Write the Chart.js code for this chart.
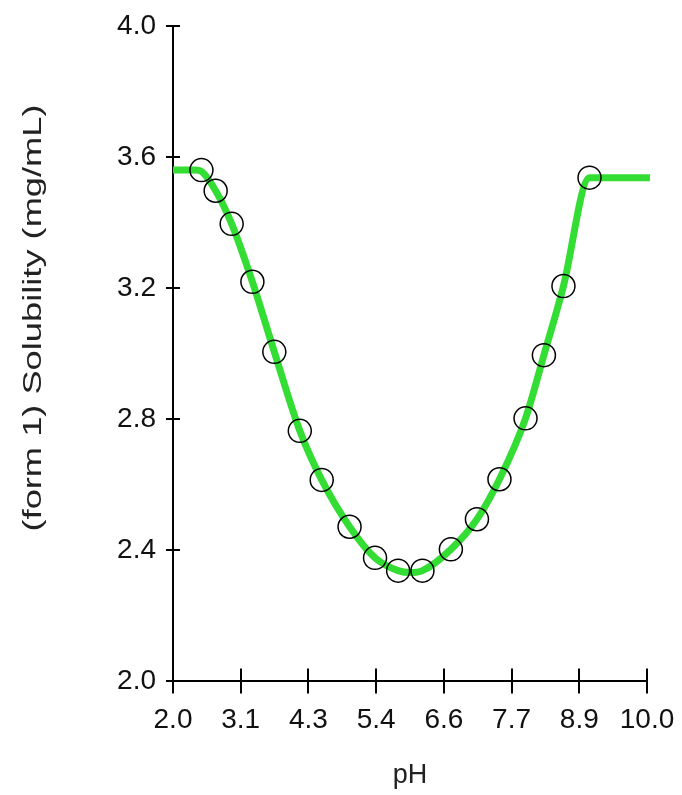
<!DOCTYPE html>
<html>
<head>
<meta charset="utf-8">
<script src="https://cdn.jsdelivr.net/npm/chart.js@4.4.1/dist/chart.umd.min.js"></script>
<style>
html,body{margin:0;padding:0;background:#fff;}
#wrap{width:682px;height:795px;}
</style>
</head>
<body>
<div id="wrap"><canvas id="c" width="682" height="795"></canvas></div>
<script>
// ---- data ----
const xTickLabels = ['2.0','3.1','4.3','5.4','6.6','7.7','8.9','10.0'];
const yTickLabels = ['2.0','2.4','2.8','3.2','3.6','4.0'];
const xTitle = 'pH';
const yTitle = '(form 1) Solubility (mg/mL)';

// measured points (open circles)
const pHMeasured  = [2.48, 2.72, 2.99, 3.34, 3.71, 4.14, 4.51, 4.98, 5.41, 5.80, 6.21, 6.69, 7.13, 7.51, 7.95, 8.26, 8.59, 9.03];
const solMeasured = [3.560, 3.497, 3.396, 3.219, 3.005, 2.764, 2.614, 2.471, 2.376, 2.337, 2.337, 2.402, 2.494, 2.616, 2.802, 2.995, 3.206, 3.537];

// fitted curve (green line)
const pHCurve  = [2.00, 2.38, 2.48, 2.72, 2.99, 3.34, 3.71, 4.14, 4.51, 4.98, 5.41, 5.80, 6.00, 6.21, 6.69, 7.13, 7.51, 7.95, 8.26, 8.59, 9.03, 10.05];
const solCurve = [3.560, 3.560, 3.556, 3.497, 3.396, 3.219, 3.005, 2.764, 2.614, 2.471, 2.376, 2.337, 2.331, 2.337, 2.402, 2.494, 2.616, 2.802, 2.995, 3.206, 3.537, 3.537];

const xMin = 2.0, xMax = 10.0;
const yMin = 2.0, yMax = 4.0;

const FONT = "'Liberation Sans', Arial, sans-serif";

const crossTicks = {
  id: 'crossTicks',
  afterDraw(chart) {
    const {ctx, scales: {x, y}} = chart;
    ctx.save();
    ctx.strokeStyle = '#000';
    ctx.lineWidth = 2;
    ctx.beginPath();
    x.ticks.forEach(t => {
      const p = Math.round(x.getPixelForValue(t.value));
      ctx.moveTo(p, x.top - 12.5);
      ctx.lineTo(p, x.top + 12.5);
    });
    y.ticks.forEach(t => {
      const p = Math.round(y.getPixelForValue(t.value));
      ctx.moveTo(y.right - 7, p);
      ctx.lineTo(y.right + 7, p);
    });
    ctx.stroke();
    ctx.restore();
  }
};

// vertical axis title, drawn as real text (stretched along its run like the reference)
const yAxisTitle = {
  id: 'yAxisTitle',
  afterDraw(chart) {
    const ctx = chart.ctx;
    ctx.save();
    ctx.font = '25px ' + FONT;
    ctx.fillStyle = '#222';
    ctx.textAlign = 'center';
    ctx.textBaseline = 'middle';
    const w = ctx.measureText(yTitle).width;
    ctx.translate(34, 318);
    ctx.rotate(-Math.PI / 2);
    ctx.scale(427 / w, 1);
    ctx.fillText(yTitle, 0, 0);
    ctx.restore();
  }
};

new Chart(document.getElementById('c'), {
  type: 'scatter',
  data: {
    datasets: [
      {
        label: 'Measured',
        data: pHMeasured.map((v, i) => ({x: v, y: solMeasured[i]})),
        showLine: false,
        pointRadius: 11.5,
        pointHoverRadius: 11.5,
        pointBorderColor: '#000',
        pointBorderWidth: 1.5,
        pointBackgroundColor: 'rgba(0,0,0,0)'
      },
      {
        label: 'Fit',
        data: pHCurve.map((v, i) => ({x: v, y: solCurve[i]})),
        showLine: true,
        borderColor: '#33dd33',
        borderWidth: 7,
        pointRadius: 0,
        pointHoverRadius: 0,
        cubicInterpolationMode: 'monotone',
        borderCapStyle: 'butt',
        clip: false
      }
    ]
  },
  options: {
    responsive: false,
    animation: false,
    events: [],
    devicePixelRatio: 1,
    layout: {padding: {top: 26, right: 35, left: 0, bottom: 0}},
    plugins: {legend: {display: false}, tooltip: {enabled: false}},
    scales: {
      x: {
        type: 'linear',
        position: 'bottom',
        min: xMin,
        max: xMax,
        afterBuildTicks: s => {
          s.ticks = xTickLabels.map((l, i) => ({value: xMin + i * (xMax - xMin) / (xTickLabels.length - 1)}));
        },
        afterFit: s => {
          s.height = 114;
          s.paddingLeft = 0; s.paddingRight = 0; s.paddingTop = 0; s.paddingBottom = 0;
        },
        grid: {drawOnChartArea: false, drawTicks: false},
        border: {display: true, color: '#000', width: 2},
        ticks: {
          padding: 22,
          color: '#111',
          maxRotation: 0,
          autoSkip: false,
          font: {family: FONT, size: 28},
          callback: (v, i) => xTickLabels[i]
        },
        title: {
          display: true,
          text: xTitle,
          color: '#222',
          font: {family: FONT, size: 27},
          padding: {top: 0, bottom: 3}
        }
      },
      y: {
        type: 'linear',
        position: 'left',
        min: yMin,
        max: yMax,
        afterBuildTicks: s => {
          s.ticks = yTickLabels.map(l => ({value: parseFloat(l)}));
        },
        afterFit: s => {
          s.width = 173;
          s.paddingLeft = 0; s.paddingRight = 0; s.paddingTop = 0; s.paddingBottom = 0;
        },
        grid: {drawOnChartArea: false, drawTicks: false},
        border: {display: true, color: '#000', width: 2},
        ticks: {
          padding: 17,
          color: '#111',
          autoSkip: false,
          font: {family: FONT, size: 28},
          callback: (v, i) => yTickLabels[i]
        },
        title: {display: false}
      }
    }
  },
  plugins: [crossTicks, yAxisTitle]
});
</script>
</body>
</html>
